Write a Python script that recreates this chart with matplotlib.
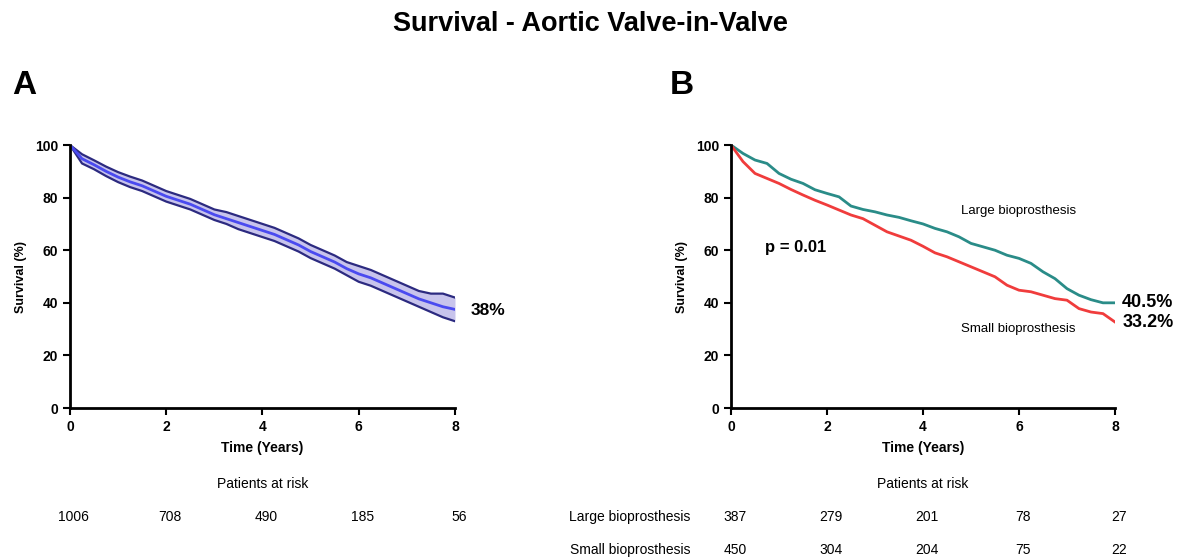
import matplotlib

matplotlib.use("Agg")
from matplotlib import pyplot as plt

plt.rcParams["font.family"] = ["Liberation Sans", "DejaVu Sans"]

# time grid (years) shared by all curves
years = [0, 0.25, 0.5, 0.75, 1.0, 1.25, 1.5, 1.75, 2.0, 2.25, 2.5, 2.75, 3.0,
         3.25, 3.5, 3.75, 4.0, 4.25, 4.5, 4.75, 5.0, 5.25, 5.5, 5.75, 6.0,
         6.25, 6.5, 6.75, 7.0, 7.25, 7.5, 7.75, 8.0]

# panel A: overall survival with confidence band
overall = [100, 94.8, 92.5, 90, 87.8, 86, 84.5, 82.5, 80.5, 79, 77.5, 75.5, 73.5,
           72, 70.5, 69, 67.5, 66, 64, 62, 59.5, 57.5, 55.5, 53, 51,
           49.5, 47.5, 45.5, 43.5, 41.5, 40, 38.5, 37.5]
overall_upper = [100, 96.5, 94.2, 91.8, 89.7, 88, 86.5, 84.5, 82.5, 81, 79.5, 77.5, 75.5,
                 74.5, 73, 71.5, 70, 68.5, 66.5, 64.5, 62, 60, 58, 55.5, 54,
                 52.5, 50.5, 48.5, 46.5, 44.5, 43.5, 43.5, 42]
overall_lower = [100, 93, 90.8, 88.2, 85.9, 84, 82.5, 80.5, 78.5, 77, 75.5, 73.5, 71.5,
                 70, 68, 66.5, 65, 63.5, 61.5, 59.5, 57, 55, 53, 50.5, 48,
                 46.5, 44.5, 42.5, 40.5, 38.5, 36.5, 34.5, 33]

# panel B: by bioprosthesis size
large = [100, 96.8, 94.3, 93, 89.2, 87, 85.4, 83, 81.6, 80.3, 76.8, 75.5, 74.6,
         73.4, 72.5, 71.2, 70, 68.3, 67, 65.1, 62.6, 61.3, 60, 58.1, 56.9,
         55, 51.8, 49.2, 45.4, 42.9, 41.2, 40, 40]
small = [100, 93.7, 89.2, 87.3, 85.4, 83.1, 81, 79, 77.2, 75.3, 73.4, 72, 69.5,
         67, 65.4, 63.8, 61.5, 59, 57.5, 55.6, 53.7, 51.8, 49.9, 46.7, 44.8,
         44.2, 42.9, 41.6, 41, 37.8, 36.5, 35.9, 32.7]

risk_times = [0, 2, 4, 6, 8]
risk_overall = [1006, 708, 490, 185, 56]
risk_large = [387, 279, 201, 78, 27]
risk_small = [450, 304, 204, 75, 22]


def style_axes(ax):
    ax.set_xlim(0, 8)
    ax.set_ylim(0, 100)
    ax.set_xticks([0, 2, 4, 6, 8])
    ax.set_yticks([0, 20, 40, 60, 80, 100])
    for side in ("top", "right"):
        ax.spines[side].set_visible(False)
    for side in ("left", "bottom"):
        ax.spines[side].set_linewidth(2)
    ax.tick_params(direction="out", length=5, width=1.5, labelsize=10)
    for label in ax.get_xticklabels() + ax.get_yticklabels():
        label.set_fontweight("bold")
    ax.set_ylabel("Survival (%)", fontsize=9, fontweight="bold", labelpad=6)
    ax.set_xlabel("Time (Years)", fontsize=10, fontweight="bold", labelpad=5)


fig = plt.figure(figsize=(11.8, 5.6), dpi=100)
ax_a = fig.add_axes([0.0593, 0.2714, 0.3263, 0.4696])
ax_b = fig.add_axes([0.6195, 0.2714, 0.3254, 0.4696])

ax_a.fill_between(years, overall_lower, overall_upper, color="#c8c4ec", linewidth=0)
ax_a.plot(years, overall_upper, color="#2c2a80", linewidth=1.6)
ax_a.plot(years, overall_lower, color="#2c2a80", linewidth=1.6)
ax_a.plot(years, overall, color="#4a4af0", linewidth=2)
style_axes(ax_a)
ax_a.text(8.33, 37, "38%", fontsize=12.5, fontweight="bold", va="center")

ax_b.plot(years, large, color="#2a8c88", linewidth=2)
ax_b.plot(years, small, color="#f03c3c", linewidth=2)
style_axes(ax_b)
ax_b.text(4.8, 75, "Large bioprosthesis", fontsize=9.5, va="center")
ax_b.text(4.8, 30, "Small bioprosthesis", fontsize=9.5, va="center")
ax_b.text(0.7, 61, "p = 0.01", fontsize=12, fontweight="bold", va="center")
ax_b.text(8.15, 40, "40.5%", fontsize=13, fontweight="bold", va="center")
ax_b.text(8.15, 32.7, "33.2%", fontsize=13, fontweight="bold", va="center")

fig.text(0.5, 0.958, "Survival - Aortic Valve-in-Valve", ha="center", va="center",
         fontsize=19.5, fontweight="bold")
fig.text(0.01, 0.848, "A", fontsize=24, fontweight="bold", va="center")
fig.text(0.568, 0.848, "B", fontsize=24, fontweight="bold", va="center")

# patients-at-risk tables
ax_a.text(4, -29, "Patients at risk", ha="center", va="center", fontsize=10, clip_on=False)
for t, n in zip(risk_times, risk_overall):
    ax_a.text(t + 0.08, -41.5, str(n), ha="center", va="center", fontsize=10, clip_on=False)

ax_b.text(4, -29, "Patients at risk", ha="center", va="center", fontsize=10, clip_on=False)
ax_b.text(-0.85, -41.5, "Large bioprosthesis", ha="right", va="center", fontsize=10, clip_on=False)
ax_b.text(-0.85, -54, "Small bioprosthesis", ha="right", va="center", fontsize=10, clip_on=False)
for t, n in zip(risk_times, risk_large):
    ax_b.text(t + 0.08, -41.5, str(n), ha="center", va="center", fontsize=10, clip_on=False)
for t, n in zip(risk_times, risk_small):
    ax_b.text(t + 0.08, -54, str(n), ha="center", va="center", fontsize=10, clip_on=False)

fig.savefig("out.png", dpi=100)
